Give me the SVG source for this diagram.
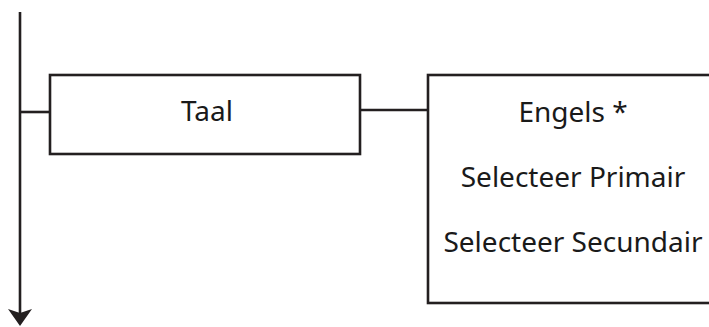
<svg xmlns="http://www.w3.org/2000/svg" width="709" height="327" viewBox="0 0 709 327">
<defs>
<style>
.ln{stroke:#231f20;stroke-width:2.6;fill:none}
.bx{stroke:#231f20;stroke-width:2.6;fill:#fff}
.t{font-family:"Noto Sans","Open Sans",sans-serif;font-size:28px;fill:#1a1a1a;text-anchor:middle}
</style>
</defs>
<rect width="709" height="327" fill="#fff"/>
<g id="connectors">
<line class="ln" x1="20" y1="12" x2="20" y2="313"/>
<path d="M8,309 L20,313 L32,309 L20,326 Z" fill="#231f20"/>
<line class="ln" x1="20" y1="112" x2="50" y2="112"/>
<line class="ln" x1="360" y1="110" x2="428" y2="110"/>
</g>
<g id="taal">
<rect class="bx" x="50" y="75" width="310" height="79"/>
<text class="t" x="207" y="121">Taal</text>
</g>
<g id="opties">
<rect class="bx" x="428" y="75" width="290" height="228"/>
<text class="t" x="573" y="122">Engels *</text>
<text class="t" x="573" y="187">Selecteer Primair</text>
<text class="t" x="573" y="252">Selecteer Secundair</text>
</g>
</svg>
